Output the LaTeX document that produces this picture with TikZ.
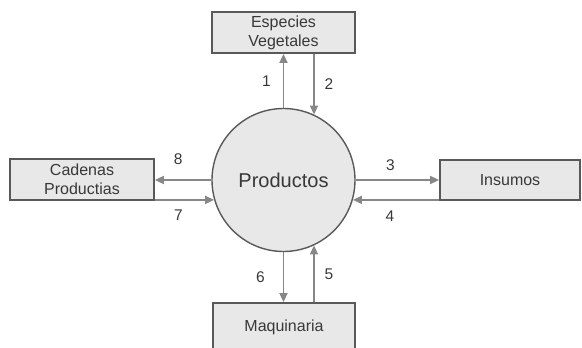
\documentclass[tikz,border=0pt]{standalone}
\usepackage{fontspec}
\setmainfont{Liberation Sans}
\usetikzlibrary{arrows.meta,calc}
\definecolor{boxfill}{HTML}{E8E8E8}
\definecolor{boxline}{HTML}{595959}
\definecolor{flowline}{HTML}{878787}
\definecolor{txt}{HTML}{383838}

\begin{document}
\begin{tikzpicture}[x=1pt,y=-1pt,
		entity/.style={draw=boxline,line width=1.8pt,fill=boxfill,text=txt,align=center,
			inner sep=0pt,font=\fontsize{16}{19}\selectfont},
		proc/.style={circle,draw=boxline,line width=1.4pt,fill=boxfill,text=txt,
			minimum size=143pt,inner sep=0pt,font=\fontsize{20}{24}\selectfont},
		flow/.style={draw=flowline,line width=1.7pt,-{Triangle[length=9pt,width=8pt]}},
		lbl/.style={text=txt,inner sep=0pt,font=\fontsize{15.5}{18}\selectfont}]
		\useasboundingbox (0,0) rectangle (582,348);
		
		\node [proc] (prod) at (283.5,180) {Productos};
		\node [entity,minimum width=143pt,minimum height=41pt] (esp) at (283.5,32.5) {Especies\\Vegetales};
		\node [entity,minimum width=144pt,minimum height=41pt] (cad) at (82,179.5) {Cadenas\\Productias};
		\node [entity,minimum width=140pt,minimum height=40pt] (ins) at (510,180) {Insumos};
		\node [entity,minimum width=142pt,minimum height=48pt] (maq) at (284,327) {Maquinaria};
		
		% arriba
		\draw [flow] (prod.north) -- (prod.north |- esp.south) node [lbl,midway,xshift=-17pt] (n1) {1};
		\draw [flow] (esp.south -| prod.65) -- (prod.65) node [lbl,midway,xshift=15pt] (n2) {2};
		% derecha
		\draw [flow] (prod.east) -- (prod.east -| ins.west) node [lbl,midway,xshift=-7pt,yshift=15pt] (n3) {3};
		\draw [flow] (prod.344 -| ins.west) -- (prod.344) node [lbl,midway,xshift=-6pt,yshift=-16pt] (n4) {4};
		% abajo
		\draw [flow] (prod.295 |- maq.north) -- (prod.295) node [lbl,midway,xshift=15pt] (n5) {5};
		\draw [flow] (prod.south) -- (prod.south |- maq.north) node [lbl,midway,xshift=-23pt] (n6) {6};
		% izquierda
		\draw [flow] (prod.196 -| cad.east) -- (prod.196) node [lbl,midway,xshift=-6pt,yshift=-15pt] (n7) {7};
		\draw [flow] (prod.west) -- (prod.west -| cad.east) node [lbl,midway,xshift=-5pt,yshift=21pt] (n8) {8};
		
	\end{tikzpicture}
\end{document}
